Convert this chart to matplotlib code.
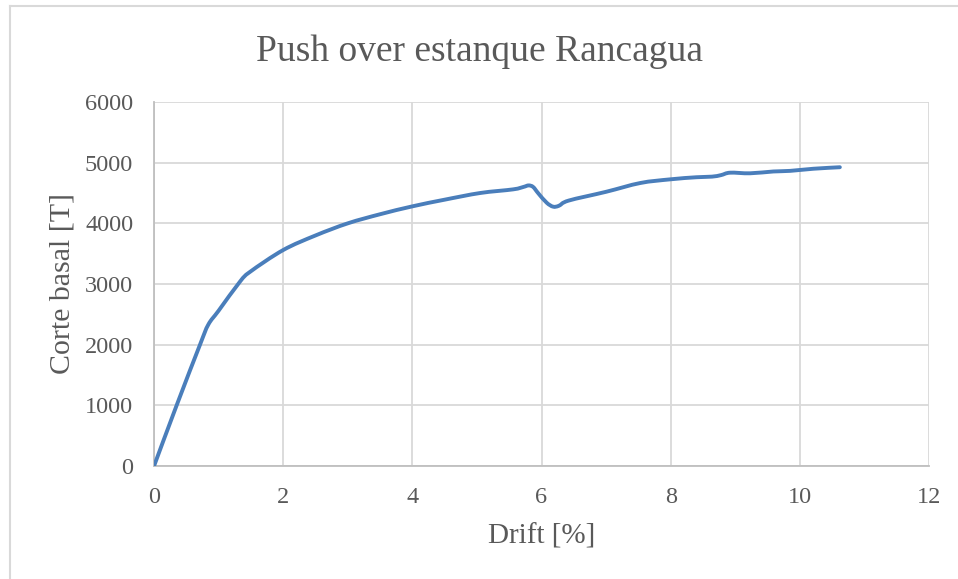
import numpy as np
import matplotlib.pyplot as plt
from matplotlib.lines import Line2D
from matplotlib.path import Path
from matplotlib.patches import PathPatch

# Pushover curve
drift = [0.0, 0.35, 0.71, 0.84, 1.0, 1.33, 1.49, 2.0, 2.5, 3.0, 3.5, 4.0, 4.5, 5.05,
         5.56, 5.72, 5.80, 5.87, 5.95, 6.08, 6.18, 6.27, 6.42, 7.0, 7.53, 7.99,
         8.40, 8.64, 8.78, 8.92, 9.23, 9.59, 9.85, 10.21, 10.62]
corte = [0, 1000, 1995, 2330, 2560, 3038, 3203, 3560, 3800, 4000, 4150, 4280, 4390, 4500,
         4560, 4600, 4625, 4600, 4495, 4340, 4275, 4290, 4375, 4520, 4665, 4725,
         4760, 4770, 4795, 4835, 4825, 4855, 4865, 4900, 4925]

xticks = [0, 2, 4, 6, 8, 10, 12]
yticks = [0, 1000, 2000, 3000, 4000, 5000, 6000]

plt.rcParams['font.family'] = ['Liberation Serif', 'DejaVu Serif']
txt = '#595959'
grid = '#d9d9d9'

fig = plt.figure(figsize=(9.58, 5.79), dpi=100)
ax = fig.add_axes([0.1608, 0.1952, 0.8089, 0.6286])

ax.set_xlim(0, 12)
ax.set_ylim(0, 6000)

# smoothed line like Excel: cubic bezier segments through the data points,
# built in display space so the smoothing is not skewed by the axis scales
pts = ax.transData.transform(np.column_stack([drift, corte]))
verts = [pts[0]]
codes = [Path.MOVETO]
n = len(pts)
for i in range(n - 1):
    p0 = pts[max(i - 1, 0)]
    p1 = pts[i]
    p2 = pts[i + 1]
    p3 = pts[min(i + 2, n - 1)]
    c1 = p1 + (p2 - p0) / 6
    c2 = p2 - (p3 - p1) / 6
    verts += [c1, c2, p2]
    codes += [Path.CURVE4] * 3
path = Path(ax.transData.inverted().transform(np.array(verts)), codes)
ax.add_patch(PathPatch(path, facecolor='none', edgecolor='#4a7ebb', lw=2.8,
                       capstyle='round', joinstyle='round', zorder=3))

ax.set_xticks(xticks)
ax.set_yticks(yticks)
ax.tick_params(axis='both', length=0, labelsize=17.5, colors=txt, pad=15)
ax.grid(True, color=grid, linewidth=1.3)
ax.set_axisbelow(True)
for s in ['top', 'right']:
    ax.spines[s].set_visible(False)
for s in ['left', 'bottom']:
    ax.spines[s].set_color('#bfbfbf')
    ax.spines[s].set_linewidth(1.3)

ax.set_xlabel('Drift [%]', fontsize=21, color=txt, labelpad=11)
ax.set_ylabel('Corte basal [T]', fontsize=21.5, color=txt, labelpad=7)
fig.text(0.5, 1 - 61/579, 'Push over estanque Rancagua', ha='center', va='baseline',
         fontsize=27, color=txt)

# chart frame
fig.add_artist(Line2D([9.5/958, 1], [1 - 6/579, 1 - 6/579], color=grid, lw=1.5))
fig.add_artist(Line2D([9.5/958, 9.5/958], [0, 1 - 6/579], color=grid, lw=1.5))

fig.savefig('out.png', dpi=100)
